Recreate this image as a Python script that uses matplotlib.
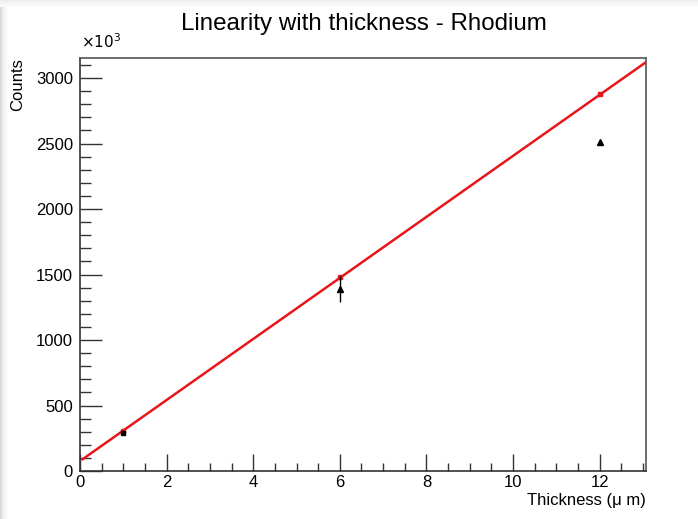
import numpy as np
import matplotlib
matplotlib.use("Agg")
import matplotlib.pyplot as plt
from matplotlib.patches import Rectangle
from matplotlib.ticker import MultipleLocator, FuncFormatter

plt.rcParams['font.family'] = ['Liberation Sans', 'DejaVu Sans']

# Measured counts (in units of 10^3) versus thickness
thickness = [1, 6, 12]
counts = [288, 1389, 2511]
count_err = [0, 100, 0]
markers = ['s', '^', '^']

# Expected counts from the linear model
model_x = [1, 6, 12]
model_y = [309, 1481, 2878]

# Linear fit parameters (counts = offset + slope * thickness)
fit_offset = 76
fit_slope = 233
fit_range = [0.06, 13.07]

W, H = 698, 519
fig = plt.figure(figsize=(W / 100, H / 100), dpi=100)

# soft window edge along the top and left
for i, c in enumerate(['#d8d8d8', '#e2e2e2', '#eaeaea', '#f0f0f0', '#f4f4f4', '#f7f7f7', '#fafafa', '#fcfcfc', '#fdfdfd']):
    fig.patches.append(Rectangle((i / W, 0), 1 / W, 1, transform=fig.transFigure,
                                 color=c, lw=0, zorder=0))
for i, c in enumerate(['#eeeeee', '#f1f1f1', '#f3f3f3', '#f5f5f5', '#f7f7f7', '#f9f9f9', '#fbfbfb']):
    fig.patches.append(Rectangle((0, 1 - (i + 1) / H), 1, 1 / H, transform=fig.transFigure,
                                 color=c, lw=0, zorder=0))

ax = fig.add_axes([80 / W, 1 - 471 / H, 566 / W, 413 / H])

xf = np.linspace(fit_range[0], fit_range[1], 50)
ax.plot(xf, fit_offset + fit_slope * xf, color='#e8151b', lw=1.8, zorder=2)

ax.plot(model_x, model_y, 's', color='#e8151b', ms=3.5, zorder=3)
ax.errorbar(thickness, counts, yerr=count_err, fmt='none', ecolor='black',
            elinewidth=1.0, capsize=0, zorder=4)
for x, y, m in zip(thickness, counts, markers):
    ax.plot(x, y, m, color='black', ms=4 if m == '^' else 3.5, zorder=5)

ax.set_xlim(0, 13.07)
ax.set_ylim(0, 3153)

ax.xaxis.set_major_locator(MultipleLocator(2))
ax.xaxis.set_minor_locator(MultipleLocator(0.5))
ax.yaxis.set_major_locator(MultipleLocator(500))
ax.yaxis.set_minor_locator(MultipleLocator(100))
ax.xaxis.set_major_formatter(FuncFormatter(lambda v, p: f"{v:g}"))
ax.yaxis.set_major_formatter(FuncFormatter(lambda v, p: f"{v:g}"))

ax.tick_params(which='both', direction='in', top=False, right=False,
               labelsize=12, color='#333333', width=1.0)
ax.tick_params(axis='y', which='major', length=16, pad=5)
ax.tick_params(axis='y', which='minor', length=8)
ax.tick_params(axis='x', which='major', length=12, pad=3)
ax.tick_params(axis='x', which='minor', length=6)

for side in ['left', 'bottom']:
    ax.spines[side].set_color('#333333')
for side in ['right', 'top']:
    ax.spines[side].set_color('#555555')
for s in ax.spines.values():
    s.set_linewidth(1.2)

ax.set_xlabel('Thickness (\u03bc m)', fontsize=12, ha='right', x=1.0, labelpad=2)
ax.set_ylabel('Counts', fontsize=12, ha='right', y=1.0, labelpad=8)

fig.text(81 / W, 1 - 48 / H, r'$\times10^{3}$', fontsize=11, ha='left',
         va='baseline', math_fontfamily='dejavusans')
fig.text(364 / W, 1 - 30 / H, 'Linearity with thickness - Rhodium',
         fontsize=17.4, ha='center', va='baseline')

fig.savefig('out.png', dpi=100)
